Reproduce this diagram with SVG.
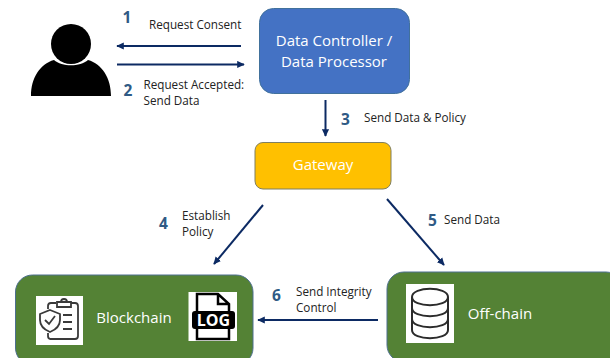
<svg xmlns="http://www.w3.org/2000/svg" width="610" height="358" viewBox="0 0 610 358">
<style>
text{font-family:"Open Sans","Noto Sans","Liberation Sans",sans-serif}
.l{font-size:11.700px;fill:#222}
.n{font-size:15.500px;font-weight:700;fill:#2f5a85}
.w{fill:#fff;font-size:15px}
.c{stroke:#0c2a63;stroke-width:2;fill:none;marker-end:url(#a)}
.g{fill:#548235;stroke:#4d6f8f;stroke-width:1}
.i{fill:none;stroke:#3a3a3a;stroke-width:1.800}
</style>
<defs><marker id="a" markerWidth="4" markerHeight="4" refX="3.400" refY="2" orient="auto" markerUnits="strokeWidth"><path d="M0,0.200L3.800,2L0,3.800z" fill="#0c2a63"/></marker></defs>
<rect width="610" height="358" fill="#fff"/>
<g id="user">
<circle cx="71" cy="44" r="20" fill="#000"/>
<path d="M31,96C31,78 40,64 54,60C62,67 80,67 88,60C102,64 111,78 111,96Z" fill="#000"/>
</g>
<g id="controller">
<rect x="259.500" y="8.500" width="150" height="85" rx="14" fill="#4472c4" stroke="#41719c"/>
<text class="w" x="334" y="46" text-anchor="middle">Data Controller /</text>
<text class="w" x="334" y="67" text-anchor="middle">Data Processor</text>
</g>
<g id="gateway">
<rect x="255" y="142.500" width="136" height="46.500" rx="8" fill="#ffc000" stroke="#7f7f60"/>
<text class="w" x="323" y="170" text-anchor="middle">Gateway</text>
</g>
<g id="blockchain">
<rect class="g" x="15.500" y="275" width="237.500" height="90" rx="17"/>
<text class="w" x="134" y="323" text-anchor="middle">Blockchain</text>
<rect x="36" y="296" width="47" height="49" fill="#fff"/>
<path class="i" d="M56,303H51A3,3 0 0 0 48,306V309M71,303H75A3,3 0 0 1 78,306V336A3,3 0 0 1 75,339H50A3,3 0 0 1 48,336V333M57,302H71V307H57ZM61,302A3,3 0 0 1 67,302M63,315H72M63,322H72M63,329H72"/>
<path class="i" d="M50,310L60,314V320C60,326 55,330 50,332C45,330 40,326 40,320V314Z"/>
<path class="i" d="M45,320L49,324L55,316"/>
<rect x="188.500" y="292" width="48.500" height="49" fill="#fff"/>
<path fill="none" stroke="#000" stroke-width="2.500" d="M197,311V294H218L229,304V311M229,329V339H197V329M218,294V304H229"/>
<rect x="192" y="311" width="43" height="18" rx="3" fill="#000"/>
<text x="213.500" y="326" text-anchor="middle" fill="#fff" font-size="16" font-weight="700">LOG</text>
</g>
<g id="offchain">
<rect class="g" x="387" y="272" width="236" height="90" rx="17"/>
<text class="w" x="500" y="319" text-anchor="middle">Off-chain</text>
<rect x="406" y="284" width="48" height="59" fill="#fff"/>
<path fill="none" stroke="#2b2b2b" stroke-width="2" d="M412,297C412,286 448,286 448,297C448,308 412,308 412,297ZM412,297V330C412,341 448,341 448,330V297M412,308C412,319 448,319 448,308M412,319C412,330 448,330 448,319"/>
</g>
<g id="connectors">
<path class="c" d="M241,46H117"/>
<path class="c" d="M117,64.500H244"/>
<path class="c" d="M325.500,100V136"/>
<path class="c" d="M263,205L214,264"/>
<path class="c" d="M387,199L444,265"/>
<path class="c" d="M378,320H258"/>
</g>
<g id="labels">
<text class="n" x="122.500" y="23">1</text>
<text class="n" x="123.500" y="96">2</text>
<text class="n" x="341" y="125">3</text>
<text class="n" x="159" y="229">4</text>
<text class="n" x="428" y="226">5</text>
<text class="n" x="272" y="301">6</text>
<text class="l" x="149" y="29">Request Consent</text>
<text class="l" x="143.500" y="89">Request Accepted:</text>
<text class="l" x="143.500" y="105">Send Data</text>
<text class="l" x="364" y="122">Send Data &amp; Policy</text>
<text class="l" x="182" y="220">Establish</text>
<text class="l" x="182" y="236">Policy</text>
<text class="l" x="444" y="224">Send Data</text>
<text class="l" x="296" y="296">Send Integrity</text>
<text class="l" x="296" y="312">Control</text>
</g>
</svg>
